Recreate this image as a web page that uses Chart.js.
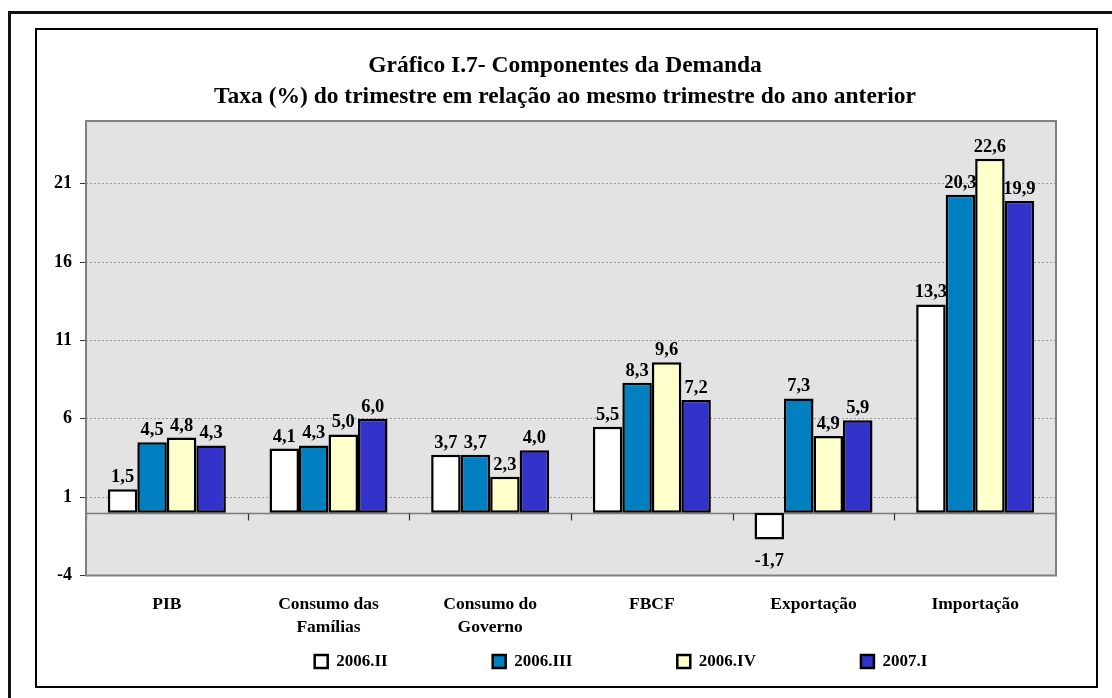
<!DOCTYPE html>
<html><head><meta charset="utf-8">
<script src="https://cdn.jsdelivr.net/npm/chart.js@4.4.0/dist/chart.umd.min.js"></script>
<style>
html,body{margin:0;padding:0;background:#fff;width:1112px;height:698px;overflow:hidden;}
#outer{position:absolute;left:8px;top:11px;width:1200px;height:800px;border:3px solid #111;}
#frame{position:absolute;left:35px;top:28px;width:1059px;height:656px;border:2px solid #000;background:#fff;}
#c{display:block;}
</style></head><body>
<div id="outer"></div>
<div id="frame"><canvas id="c" width="1059" height="656"></canvas></div>
<script>
const categories = [["PIB"], ["Consumo das", "Famílias"], ["Consumo do", "Governo"], ["FBCF"], ["Exportação"], ["Importação"]];
const seriesNames = ["2006.II", "2006.III", "2006.IV", "2007.I"];
const s2006II  = [1.5, 4.1, 3.7, 5.5, -1.7, 13.3];
const s2006III = [4.5, 4.3, 3.7, 8.3, 7.3, 20.3];
const s2006IV  = [4.8, 5.0, 2.3, 9.6, 4.9, 22.6];
const s2007I   = [4.3, 6.0, 4.0, 7.2, 5.9, 19.9];
const yTicks = [-4, 1, 6, 11, 16, 21];
const titleLines = ["Gráfico I.7- Componentes da Demanda", "Taxa (%) do trimestre em relação ao mesmo trimestre do ano anterior"];

const FONT = "'Liberation Serif', 'Times New Roman', serif";
const colors = ["#FFFFFF", "#0080C0", "#FFFFCC", "#3333CC"];
const seriesValues = [s2006II, s2006III, s2006IV, s2007I];
const LEGEND_PAD = 105;

const chromePlugin = {
  id: 'chrome',
  afterLayout(chart) {
    const lg = chart.legend;
    if (lg) {
      lg.left += 70; lg.right += 70;
      lg.top -= (LEGEND_PAD - 10);
    }
    const tt = chart.titleBlock;
    if (tt) { tt.left += 14; tt.right += 14; }
  },
  beforeDraw(chart) {
    const {ctx, chartArea: a} = chart;
    ctx.save();
    ctx.fillStyle = '#E3E3E3';
    ctx.fillRect(a.left, a.top, a.right - a.left, a.bottom - a.top);
    ctx.restore();
  },
  beforeDatasetsDraw(chart) {
    const {ctx, chartArea: a, scales: {x, y}} = chart;
    const y0 = Math.round(y.getPixelForValue(0)) + 0.5;
    ctx.save();
    ctx.strokeStyle = '#7a7a7a';
    ctx.lineWidth = 1.5;
    ctx.beginPath();
    ctx.moveTo(a.left, y0); ctx.lineTo(a.right, y0);
    ctx.stroke();
    ctx.strokeStyle = '#333';
    ctx.lineWidth = 1.2;
    const n = categories.length;
    for (let i = 0; i <= n; i++) {
      const px = Math.round(x.getPixelForValue(i - 0.5)) + 0.5;
      ctx.beginPath();
      ctx.moveTo(px, y0); ctx.lineTo(px, y0 + 7);
      ctx.stroke();
    }
    ctx.restore();
  },
  afterDatasetsDraw(chart) {
    const {ctx, chartArea: a} = chart;
    ctx.save();
    ctx.strokeStyle = '#808080';
    ctx.lineWidth = 2;
    ctx.strokeRect(a.left, a.top, a.right - a.left, a.bottom - a.top);
    ctx.fillStyle = '#000';
    ctx.font = "bold 18.5px " + FONT;
    ctx.textAlign = 'center';
    chart.data.datasets.forEach((ds, di) => {
      const meta = chart.getDatasetMeta(di);
      meta.data.forEach((el, i) => {
        const v = ds.data[i];
        const txt = v.toFixed(1).replace('.', ',');
        if (v >= 0) {
          ctx.textBaseline = 'alphabetic';
          ctx.fillText(txt, el.x, el.y - 7);
        } else {
          ctx.textBaseline = 'top';
          ctx.fillText(txt, el.x, el.y + 13);
        }
      });
    });
    ctx.restore();
  }
};

new Chart(document.getElementById('c'), {
  type: 'bar',
  data: {
    labels: categories,
    datasets: seriesNames.map((name, i) => ({
      label: name,
      data: seriesValues[i],
      backgroundColor: colors[i],
      borderColor: '#000',
      borderWidth: 2.5,
      borderSkipped: false,
      categoryPercentage: 0.73,
      barPercentage: 1.0
    }))
  },
  options: {
    responsive: false,
    animation: false,
    devicePixelRatio: 1,
    layout: { padding: { left: 9, right: 40, top: 0, bottom: 6 } },
    plugins: {
      tooltip: { enabled: false },
      title: {
        display: true,
        text: titleLines,
        color: '#000',
        font: { family: FONT, size: 23.5, weight: 'bold', lineHeight: 1.32 },
        padding: { top: 20.5, bottom: 8.5 }
      },
      legend: {
        display: true,
        position: 'bottom',
        maxHeight: 37,
        labels: {
          color: '#000',
          font: { family: FONT, size: 17, weight: 'bold' },
          boxWidth: 13,
          boxHeight: 13,
          padding: LEGEND_PAD
        }
      }
    },
    scales: {
      x: {
        type: 'category',
        grid: { display: false },
        border: { display: false },
        ticks: {
          color: '#000',
          font: { family: FONT, size: 17.5, weight: 'bold', lineHeight: 1.3 },
          padding: 10,
          maxRotation: 0,
          autoSkip: false
        },
        afterFit(s) { s.height = 67.5; }
      },
      y: {
        min: -4,
        max: 25,
        afterBuildTicks(s) { s.ticks = yTicks.map(v => ({ value: v })); },
        grid: { color: '#9a9a9a', lineWidth: 1, tickLength: 6, tickColor: '#333', drawTicks: true },
        border: { display: false, dash: [2, 2] },
        ticks: {
          color: '#000',
          font: { family: FONT, size: 18, weight: 'bold' },
          padding: 8,
          callback: v => String(v)
        },
        afterFit(s) { s.width = 40; }
      }
    }
  },
  plugins: [chromePlugin]
});
</script>
</body></html>
